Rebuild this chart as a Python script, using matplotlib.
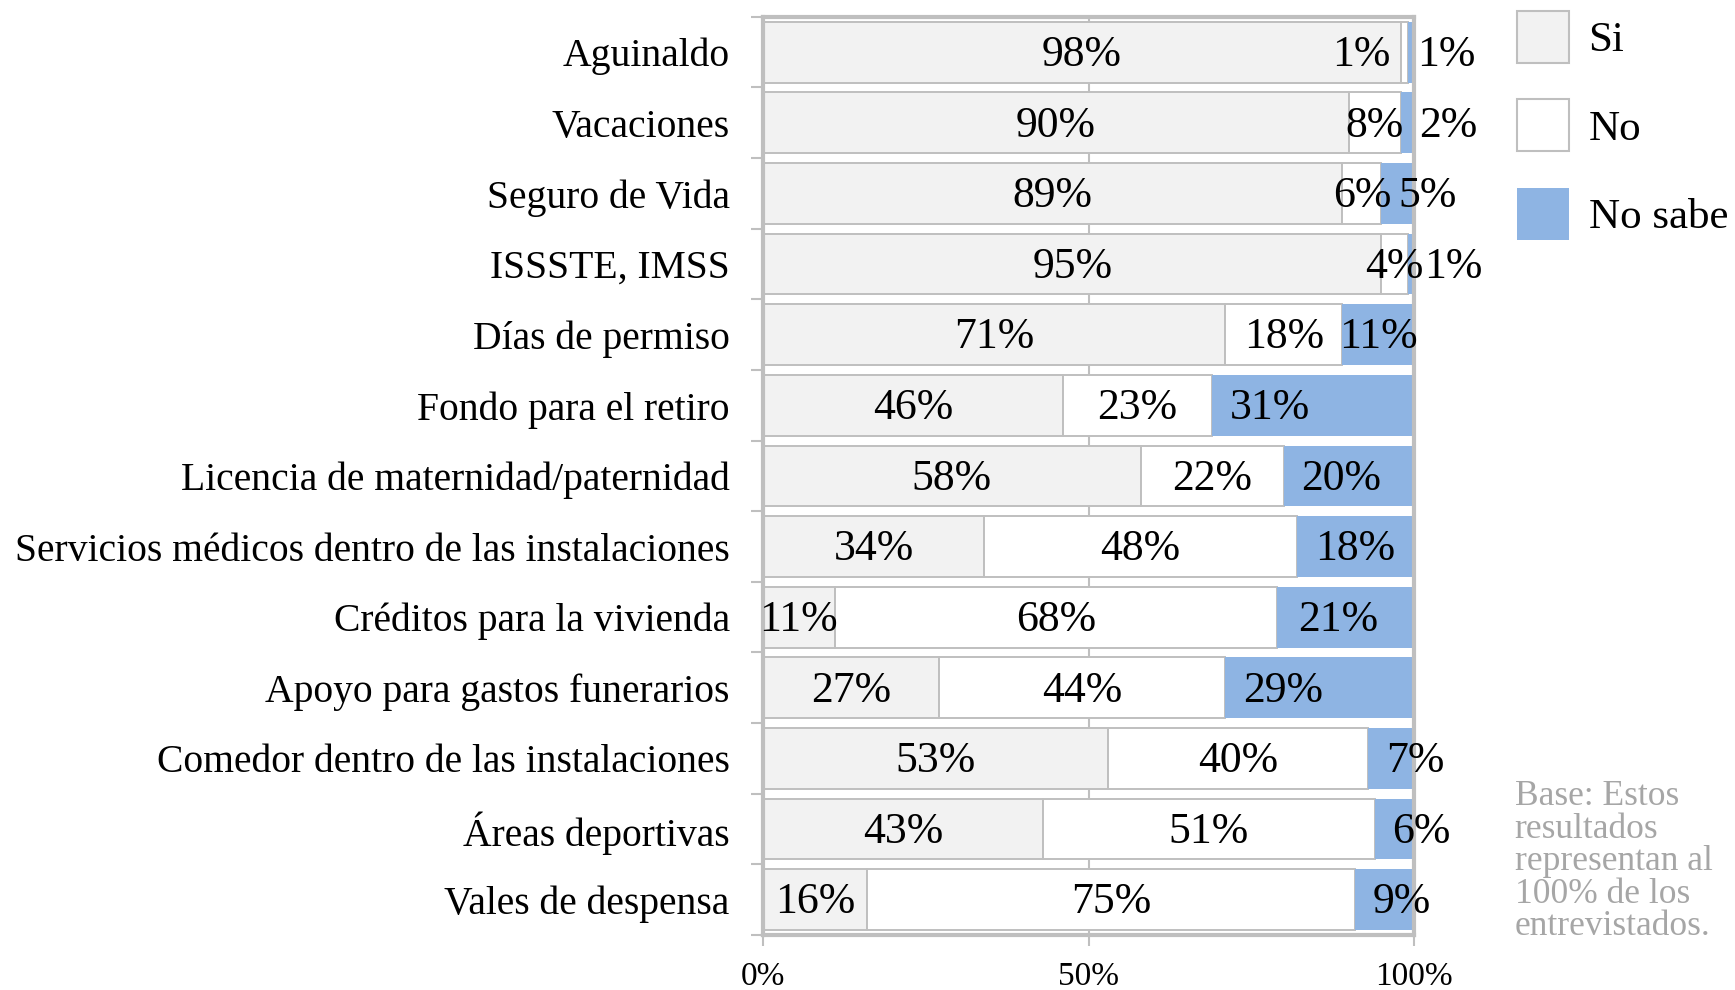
import matplotlib
matplotlib.use("Agg")
import matplotlib.pyplot as plt
import numpy as np

plt.rcParams['font.family'] = ['Liberation Serif', 'DejaVu Serif']

categories = [
    "Aguinaldo", "Vacaciones", "Seguro de Vida", "ISSSTE, IMSS",
    "Días de permiso", "Fondo para el retiro",
    "Licencia de maternidad/paternidad",
    "Servicios médicos dentro de las instalaciones",
    "Créditos para la vivienda", "Apoyo para gastos funerarios",
    "Comedor dentro de las instalaciones", "Áreas deportivas",
    "Vales de despensa",
]
si = [98, 90, 89, 95, 71, 46, 58, 34, 11, 27, 53, 43, 16]
no = [1, 8, 6, 4, 18, 23, 22, 48, 68, 44, 40, 51, 75]
no_sabe = [1, 2, 5, 1, 11, 31, 20, 18, 21, 29, 7, 6, 9]
series_names = ["Si", "No", "No sabe"]
xtick_values = [0, 50, 100]
note = "Base: Estos\nresultados\nrepresentan al\n100% de los\nentrevistados."

# label nudges (in % units) for labels moved by hand in the original
no_nudge = [-6.6, 0, 0, 0, 0, 0, 0, 0, 0, 0, 0, 0, 0]
ns_nudge = [5.5, 6.3, 4.6, 6.6, 0, -6.6, -1.2, 0, -1.2, -5.6, 3.7, 4.1, 2.6]

c_si = "#f2f2f2"
c_no = "#ffffff"
c_ns = "#8eb4e3"
edge = "#bfbfbf"

fig = plt.figure(figsize=(17.35, 9.9), dpi=100)
ax = fig.add_axes([0.4398, 0.0556, 0.8150 - 0.4398, 0.983 - 0.0556])

y = np.arange(len(categories))
si_a = np.array(si, float)
no_a = np.array(no, float)
ns_a = np.array(no_sabe, float)
h = 0.86
b1 = ax.barh(y, si_a, height=h, color=c_si, edgecolor=edge, linewidth=1.4, zorder=2, label=series_names[0])
b2 = ax.barh(y, no_a, left=si_a, height=h, color=c_no, edgecolor=edge, linewidth=1.4, zorder=2, label=series_names[1])
b3 = ax.barh(y, ns_a, left=si_a + no_a, height=h, color=c_ns, edgecolor='none', linewidth=0, zorder=2, label=series_names[2])

fs_val = 31.5
for i in range(len(categories)):
    ax.text(si_a[i] / 2, y[i] + 0.04, f"{si[i]}%", ha='center', va='center', fontsize=fs_val, zorder=5)
    ax.text(si_a[i] + no_a[i] / 2 + no_nudge[i], y[i] + 0.04, f"{no[i]}%", ha='center', va='center', fontsize=fs_val, zorder=5)
    ax.text(si_a[i] + no_a[i] + ns_a[i] / 2 + ns_nudge[i], y[i] + 0.04, f"{no_sabe[i]}%", ha='center', va='center', fontsize=fs_val, zorder=5, clip_on=False)

ax.set_xlim(0, 100)
ax.set_ylim(len(categories) - 0.5, -0.5)
ax.set_yticks(y)
ax.set_yticklabels(categories, fontsize=28.5)
ax.set_yticks(np.arange(len(categories) + 1) - 0.5, minor=True)
ax.tick_params(axis='y', which='major', length=0, pad=24)
ax.tick_params(axis='y', which='minor', length=9, width=1.5, color=edge)
ax.set_xticks(xtick_values)
ax.set_xticklabels([f"{v}%" for v in xtick_values], fontsize=24)
ax.tick_params(axis='x', length=8, width=1.5, color=edge, pad=11)
ax.xaxis.grid(True, color=edge, linewidth=1.5, zorder=0)
ax.set_axisbelow(True)
for s in ax.spines.values():
    s.set_color(edge)
    s.set_linewidth(3)

leg = fig.legend(handles=[b1, b2, b3], labels=series_names, loc='upper left',
                 bbox_to_anchor=(0.8744, 0.989), frameon=False, fontsize=31,
                 handlelength=1.21, handleheight=1.48, labelspacing=0.85,
                 handletextpad=0.45, borderaxespad=0, borderpad=0)
for p in leg.get_patches():
    p.set_linewidth(1.5)

fig.text(0.873, 0.212, note, ha='left', va='top', fontsize=25.5, color="#a6a6a6", linespacing=0.98)

fig.savefig("out.png", dpi=100)
